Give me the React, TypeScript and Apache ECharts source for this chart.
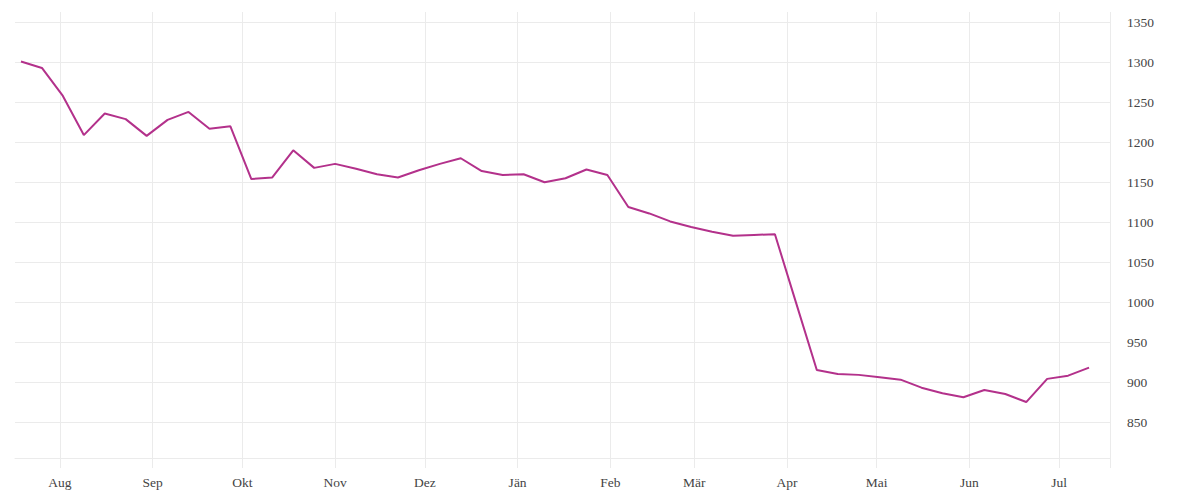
import React, { useEffect, useRef } from "react";
import * as echarts from "echarts";

// Axis extent (daily categories) and weekly observations
const axisStart = "2022-07-17";
const axisEnd = "2023-07-18";
const firstObservation = "2022-07-19";

const monthNames = ["Jän", "Feb", "Mär", "Apr", "Mai", "Jun", "Jul", "Aug", "Sep", "Okt", "Nov", "Dez"];

const prices = [
  1301, 1293, 1258, 1209, 1236, 1229, 1208, 1228, 1238, 1217,
  1220, 1154, 1156, 1190, 1168, 1173, 1167, 1160, 1156, 1165,
  1173, 1180, 1164, 1159, 1160, 1150, 1155, 1166, 1159, 1119,
  1111, 1101, 1094, 1088, 1083, 1084, 1085, 1000, 915, 910,
  909, 906, 903, 893, 886, 881, 890, 885, 875, 904,
  908, 918,
];

const yMin = 805;
const yMax = 1363;
const yStep = 50;

const DAY = 86400000;
const isoDay = (t: number) => new Date(t).toISOString().slice(0, 10);

function buildDays(a: string, b: string): string[] {
  const out: string[] = [];
  for (let t = Date.parse(a + "T00:00:00Z"); t <= Date.parse(b + "T00:00:00Z"); t += DAY) {
    out.push(isoDay(t));
  }
  return out;
}

const days = buildDays(axisStart, axisEnd);
const obsDates = prices.map((_, i) => isoDay(Date.parse(firstObservation + "T00:00:00Z") + i * 7 * DAY));

const FONT = "'Liberation Serif', 'DejaVu Serif', serif";
const GRID = "#ebebeb";
const TEXT = "#444444";
const LINE = "#b3318b";

export default function App() {
  const ref = useRef<HTMLDivElement>(null);

  useEffect(() => {
    if (!ref.current) return;
    const chart = echarts.init(ref.current, undefined, { renderer: "svg" });
    const lastIndex = days.length - 1;
    const isMonthStart = (_i: number, v: string) => v.slice(8, 10) === "01";
    const tickFn = (i: number, v: string) => isMonthStart(i, v) || i === lastIndex;

    chart.setOption({
      animation: false,
      grid: { left: 15, right: 90, top: 12, bottom: 42, containLabel: false, outerBoundsMode: "none" },
      xAxis: {
        type: "category",
        data: days,
        boundaryGap: false,
        axisLine: { show: true, lineStyle: { color: GRID, width: 1 } },
        axisTick: { show: true, interval: tickFn, length: 10, lineStyle: { color: GRID, width: 1 } },
        splitLine: { show: true, interval: tickFn, lineStyle: { color: GRID, width: 1 } },
        axisLabel: {
          interval: isMonthStart,
          formatter: (v: string) => monthNames[parseInt(v.slice(5, 7), 10) - 1],
          margin: 17,
          color: TEXT,
          fontFamily: FONT,
          fontSize: 13.5,
        },
      },
      yAxis: {
        type: "value",
        position: "right",
        min: yMin,
        max: yMax,
        minInterval: yStep,
        maxInterval: yStep,
        splitNumber: 11,
        axisLine: { show: false },
        axisTick: { show: false },
        splitLine: { show: true, showMinLine: false, showMaxLine: false, lineStyle: { color: GRID, width: 1 } },
        axisLabel: {
          showMinLabel: false,
          showMaxLabel: false,
          formatter: (v: number) => String(v),
          margin: 17,
          color: TEXT,
          fontFamily: FONT,
          fontSize: 13.5,
        },
      },
      series: [
        {
          type: "line",
          data: obsDates.map((d, i) => [d, prices[i]]),
          showSymbol: false,
          symbol: "none",
          lineStyle: { color: LINE, width: 2 },
          itemStyle: { color: LINE },
        },
      ],
    });
    return () => chart.dispose();
  }, []);

  return (
    <div
      ref={ref}
      style={{ position: "absolute", left: 0, top: 0, width: 1200, height: 500, background: "#ffffff" }}
    />
  );
}
